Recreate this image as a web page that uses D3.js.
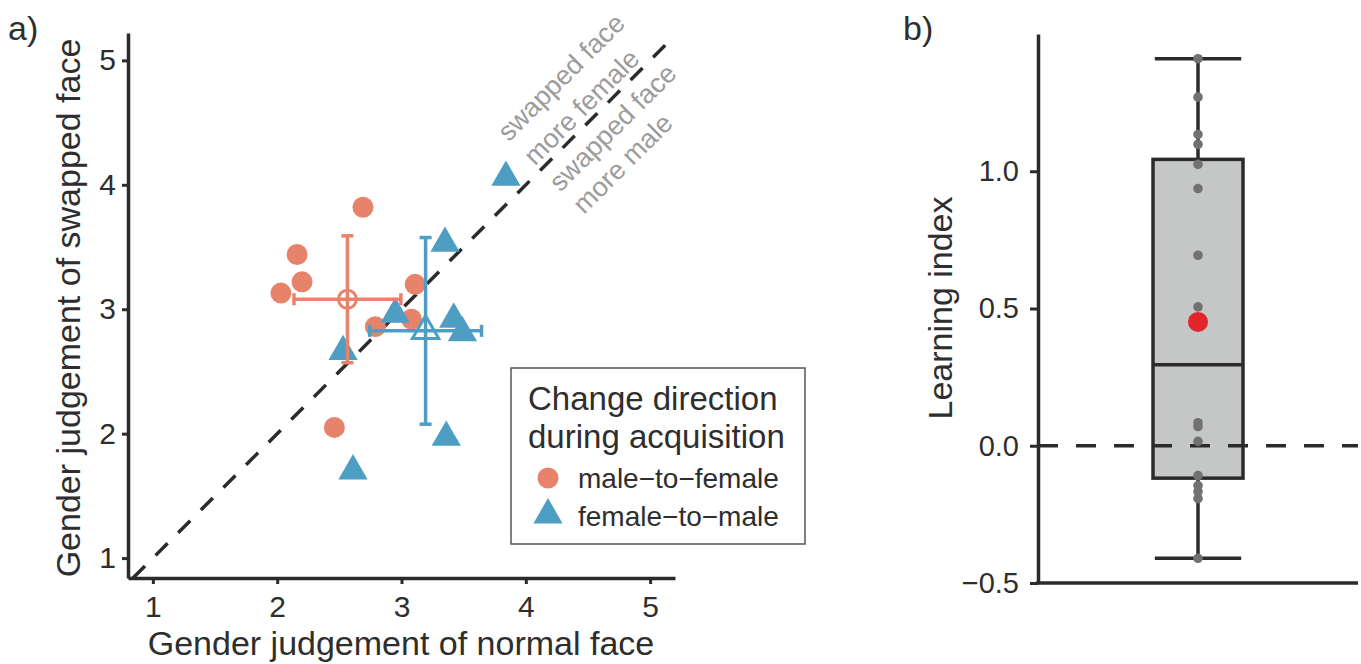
<!DOCTYPE html>
<html>
<head>
<meta charset="utf-8">
<script src="https://cdn.jsdelivr.net/npm/d3@7"></script>
<style>
  html, body { margin: 0; padding: 0; background: #fff; }
  svg { display: block; font-family: "Liberation Sans", Arial, Helvetica, sans-serif; }
</style>
</head>
<body>
<svg id="chart" width="1361" height="664"></svg>
<script>
// ---------------- data ----------------
// Panel a: male-to-female (circles)
const m2fNormal  = [2.69, 2.16, 2.20, 2.03, 3.11, 3.08, 2.79, 2.46];
const m2fSwapped = [3.82, 3.44, 3.22, 3.13, 3.20, 2.92, 2.86, 2.05];
// Panel a: female-to-male (triangles)
const f2mNormal  = [3.84, 3.35, 2.95, 3.42, 3.49, 2.53, 3.36, 2.61];
const f2mSwapped = [4.06, 3.53, 2.96, 2.92, 2.81, 2.66, 1.97, 1.70];
// error bar half-widths [x, y]
const m2fErr = [0.43, 0.51];
const f2mErr = [0.45, 0.75];
const groupNames = ["male\u2212to\u2212female", "female\u2212to\u2212male"];
const axisTicksA = [1, 2, 3, 4, 5];
// diagonal annotations (data coords of line centres)
const annoText = ["swapped face", "more female", "swapped face", "more male"];
const annoX = [4.285, 4.45, 4.70, 4.78];
const annoY = [4.864, 4.624, 4.46, 4.17];
// Panel b: learning index
const learning = [1.41, 1.27, 1.134, 1.098, 1.025, 0.937, 0.694, 0.506, 0.084, 0.070, 0.016, -0.109, -0.145, -0.167, -0.193, -0.41];
const axisTicksB = [-0.5, 0, 0.5, 1.0];

// ---------------- styles ----------------
const ORANGE = "#E8836B", BLUE = "#4E9DC3", DARK = "#2B2B2B", TXT = "#2E2E2E";
const svg = d3.select("#chart");

// ================= Panel a =================
const xA = d3.scaleLinear().domain([0.8, 5.2]).range([128, 675]);
const yA = d3.scaleLinear().domain([0.84, 5.22]).range([578, 33]);
const gA = svg.append("g");

// diagonal
gA.append("line")
  .attr("x1", xA(0.84)).attr("y1", yA(0.84))
  .attr("x2", xA(5.2)).attr("y2", yA(5.2))
  .attr("stroke", DARK).attr("stroke-width", 3.5)
  .attr("stroke-dasharray", "17,15");

// annotations
annoText.forEach((t, i) => {
  gA.append("text")
    .attr("transform", `translate(${xA(annoX[i])},${yA(annoY[i])}) rotate(-45)`)
    .attr("text-anchor", "middle").attr("dominant-baseline", "central")
    .attr("font-size", 27).attr("fill", "#9C9C9C")
    .text(t);
});

// axes
const axA_x = gA.append("g").attr("transform", "translate(0,578)")
  .call(d3.axisBottom(xA).tickValues(axisTicksA).tickFormat(d3.format("d")).tickSize(6).tickPadding(12).tickSizeOuter(0));
const axA_y = gA.append("g").attr("transform", "translate(128,0)")
  .call(d3.axisLeft(yA).tickValues(axisTicksA).tickFormat(d3.format("d")).tickSize(6).tickPadding(6).tickSizeOuter(0));
[axA_x, axA_y].forEach(a => {
  a.select(".domain").attr("stroke", DARK).attr("stroke-width", 3.5);
  a.selectAll(".tick line").attr("stroke", DARK).attr("stroke-width", 3);
  a.selectAll(".tick text").attr("font-size", 30).attr("fill", TXT).attr("font-family", null);
});

// points
const triSym = d3.symbol().type(d3.symbolTriangle).size(370);
gA.append("g").selectAll("circle").data(d3.range(m2fNormal.length)).join("circle")
  .attr("cx", i => xA(m2fNormal[i])).attr("cy", i => yA(m2fSwapped[i]))
  .attr("r", 10.5).attr("fill", ORANGE);
gA.append("g").selectAll("path").data(d3.range(f2mNormal.length)).join("path")
  .attr("transform", i => `translate(${xA(f2mNormal[i])},${yA(f2mSwapped[i])})`)
  .attr("d", triSym).attr("fill", BLUE);

// means & error bars
function crossBars(mx, my, ex, ey, col) {
  const g = gA.append("g").attr("stroke", col).attr("stroke-width", 3.5).attr("fill", "none");
  const cap = 6;
  g.append("line").attr("x1", xA(mx - ex)).attr("x2", xA(mx + ex)).attr("y1", yA(my)).attr("y2", yA(my));
  g.append("line").attr("x1", xA(mx - ex)).attr("x2", xA(mx - ex)).attr("y1", yA(my) - cap).attr("y2", yA(my) + cap);
  g.append("line").attr("x1", xA(mx + ex)).attr("x2", xA(mx + ex)).attr("y1", yA(my) - cap).attr("y2", yA(my) + cap);
  g.append("line").attr("x1", xA(mx)).attr("x2", xA(mx)).attr("y1", yA(my - ey)).attr("y2", yA(my + ey));
  g.append("line").attr("x1", xA(mx) - cap).attr("x2", xA(mx) + cap).attr("y1", yA(my - ey)).attr("y2", yA(my - ey));
  g.append("line").attr("x1", xA(mx) - cap).attr("x2", xA(mx) + cap).attr("y1", yA(my + ey)).attr("y2", yA(my + ey));
  return g;
}
const m2fMx = d3.mean(m2fNormal), m2fMy = d3.mean(m2fSwapped);
const f2mMx = d3.mean(f2mNormal), f2mMy = d3.mean(f2mSwapped);
crossBars(m2fMx, m2fMy, m2fErr[0], m2fErr[1], ORANGE)
  .append("circle").attr("cx", xA(m2fMx)).attr("cy", yA(m2fMy)).attr("r", 9).attr("stroke-width", 3);
crossBars(f2mMx, f2mMy, f2mErr[0], f2mErr[1], BLUE)
  .append("path").attr("transform", `translate(${xA(f2mMx)},${yA(f2mMy)})`)
  .attr("d", d3.symbol().type(d3.symbolTriangle).size(300)).attr("stroke-width", 3);

// axis titles
gA.append("text").attr("x", 401).attr("y", 655).attr("text-anchor", "middle")
  .attr("font-size", 34).attr("fill", TXT).text("Gender judgement of normal face");
gA.append("text").attr("transform", "translate(80,308) rotate(-90)").attr("text-anchor", "middle")
  .attr("font-size", 34).attr("fill", TXT).text("Gender judgement of swapped face");
svg.append("text").attr("x", 8).attr("y", 40).attr("font-size", 34).attr("fill", TXT).text("a)");

// legend
const lg = gA.append("g");
lg.append("rect").attr("x", 511).attr("y", 368).attr("width", 294).attr("height", 176)
  .attr("fill", "#fff").attr("stroke", "#555").attr("stroke-width", 1.5);
lg.append("text").attr("x", 528).attr("y", 410).attr("font-size", 33).attr("fill", TXT).text("Change direction");
lg.append("text").attr("x", 528).attr("y", 448).attr("font-size", 33).attr("fill", TXT).text("during acquisition");
lg.append("circle").attr("cx", 548).attr("cy", 478).attr("r", 10.5).attr("fill", ORANGE);
lg.append("path").attr("transform", "translate(548,515)").attr("d", triSym).attr("fill", BLUE);
lg.append("text").attr("x", 578).attr("y", 488).attr("font-size", 28).attr("fill", TXT).text(groupNames[0]);
lg.append("text").attr("x", 578).attr("y", 526).attr("font-size", 28).attr("fill", TXT).text(groupNames[1]);

// ================= Panel b =================
const xB = d3.scaleBand().domain(["all"]).range([1038, 1358]).paddingInner(0).paddingOuter(1.278);
const yB = d3.scaleLinear().domain([-0.5, 1.5]).range([583, 34]);
const gB = svg.append("g");
const sorted = learning.slice().sort(d3.ascending);
const q1 = d3.quantile(sorted, 0.25), med = d3.quantile(sorted, 0.5), q3 = d3.quantile(sorted, 0.75);
const iqr = q3 - q1;
const wLo = d3.min(sorted.filter(v => v >= q1 - 1.5 * iqr));
const wHi = d3.max(sorted.filter(v => v <= q3 + 1.5 * iqr));
const bx = xB("all"), bw = xB.bandwidth(), cx = bx + bw / 2;
const capW = bw * 0.96;

// whiskers
gB.append("line").attr("x1", cx).attr("x2", cx).attr("y1", yB(wHi)).attr("y2", yB(q3)).attr("stroke", DARK).attr("stroke-width", 3.5);
gB.append("line").attr("x1", cx).attr("x2", cx).attr("y1", yB(q1)).attr("y2", yB(wLo)).attr("stroke", DARK).attr("stroke-width", 3.5);
[wHi, wLo].forEach(v => gB.append("line").attr("x1", cx - capW / 2).attr("x2", cx + capW / 2)
  .attr("y1", yB(v)).attr("y2", yB(v)).attr("stroke", DARK).attr("stroke-width", 3.5));
// box
gB.append("rect").attr("x", bx).attr("y", yB(q3)).attr("width", bw).attr("height", yB(q1) - yB(q3))
  .attr("fill", "#C5C7C6").attr("stroke", DARK).attr("stroke-width", 3.5);
gB.append("line").attr("x1", bx).attr("x2", bx + bw).attr("y1", yB(med)).attr("y2", yB(med))
  .attr("stroke", DARK).attr("stroke-width", 3.5);
// zero line
gB.append("line").attr("x1", 1038).attr("x2", 1358).attr("y1", yB(0)).attr("y2", yB(0))
  .attr("stroke", DARK).attr("stroke-width", 3.5).attr("stroke-dasharray", "20,18");
// points
gB.append("g").selectAll("circle").data(learning).join("circle")
  .attr("cx", cx).attr("cy", d => yB(d)).attr("r", 4.8).attr("fill", "#717171");
gB.append("circle").attr("cx", cx).attr("cy", yB(d3.mean(learning))).attr("r", 10).attr("fill", "#E0262A");

// axes
const axB_y = gB.append("g").attr("transform", "translate(1038,0)")
  .call(d3.axisLeft(yB).tickValues(axisTicksB).tickFormat(d3.format(".1f")).tickSize(8).tickPadding(11).tickSizeOuter(0));
axB_y.select(".domain").attr("stroke", DARK).attr("stroke-width", 3.5);
axB_y.selectAll(".tick line").attr("stroke", DARK).attr("stroke-width", 3);
axB_y.selectAll(".tick text").attr("font-size", 29).attr("fill", TXT).attr("font-family", null);
gB.append("line").attr("x1", 1036).attr("x2", 1358).attr("y1", 583).attr("y2", 583).attr("stroke", DARK).attr("stroke-width", 3.5);

gB.append("text").attr("transform", "translate(952,308) rotate(-90)").attr("text-anchor", "middle")
  .attr("font-size", 34).attr("fill", TXT).text("Learning index");
svg.append("text").attr("x", 903).attr("y", 40).attr("font-size", 34).attr("fill", TXT).text("b)");
</script>
</body>
</html>
